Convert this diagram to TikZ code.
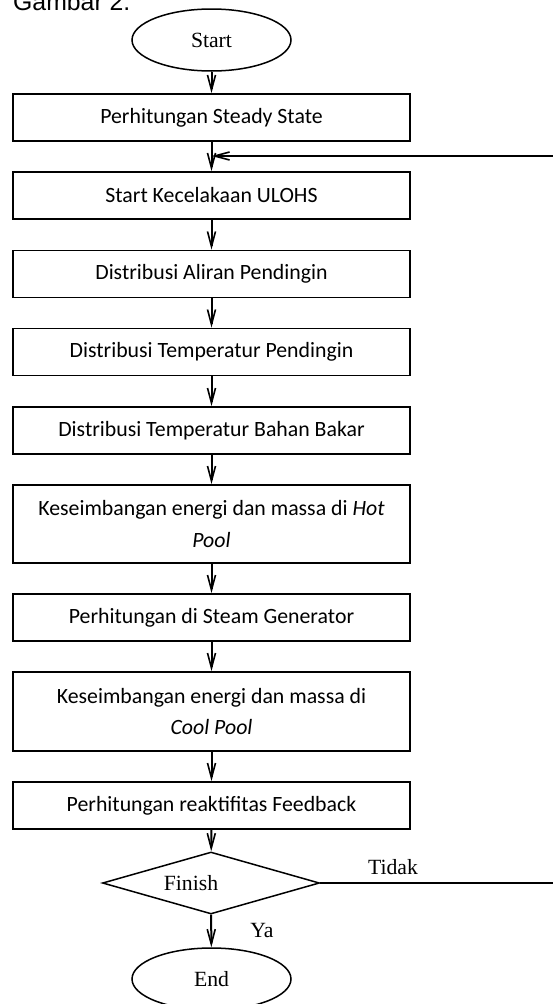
\documentclass[tikz,border=0pt]{standalone}
\usepackage{fontspec}
\setmainfont{Liberation Serif}
\newfontfamily\calfont{Carlito}
\newfontfamily\arialfont{Liberation Sans}
\usetikzlibrary{arrows.meta,shapes.geometric}
\begin{document}
\begin{tikzpicture}[x=1pt,y=-1pt,
  stepbox/.style={draw,line width=1.8pt,minimum width=397pt,inner sep=0pt,align=center,
    font=\calfont\fontsize{21.8}{31.5}\selectfont},
  onebox/.style={stepbox,minimum height=47pt},
  twobox/.style={stepbox,minimum height=79pt},
  term/.style={draw,ellipse,line width=1.5pt,minimum width=159pt,minimum height=62pt,inner sep=0pt,
    font=\fontsize{21.7}{24}\selectfont},
  lbl/.style={font=\fontsize{21.7}{24}\selectfont,inner sep=0pt},
  conn/.style={line width=2pt,-{Straight Barb[length=15pt,width=8pt,line width=1.6pt]}}]
\useasboundingbox (0,0) rectangle (553,1004);
\node[anchor=base west,inner sep=0pt,font=\arialfont\fontsize{24.8}{28}\selectfont] (cap) at (13,10) {Gambar 2.};
\node[term] (start) at (211.5,40) {Start};
\node[onebox] (b1) at (211.5,117.5) {Perhitungan Steady State};
\node[onebox] (b2) at (211.5,195.5) {Start Kecelakaan ULOHS};
\node[onebox] (b3) at (211.5,274) {Distribusi Aliran Pendingin};
\node[onebox] (b4) at (211.5,352) {Distribusi Temperatur Pendingin};
\node[onebox] (b5) at (211.5,430.5) {Distribusi Temperatur Bahan Bakar};
\node[twobox,minimum height=78pt] (b6) at (211.5,524) {Keseimbangan energi dan massa di \textit{Hot}\\\textit{Pool}};
\node[onebox] (b7) at (211.5,617.5) {Perhitungan di Steam Generator};
\node[twobox] (b8) at (211.5,711.5) {Keseimbangan energi dan massa di\\\textit{Cool Pool}};
\node[onebox] (b9) at (211.5,805.5) {Perhitungan reaktifitas Feedback};
\node[draw,diamond,line width=1.5pt,minimum width=217pt,minimum height=62pt,inner sep=0pt] (dec) at (211,883) {};
\node[lbl] (fin) at (191,883) {Finish};
\node[term] (end) at (211.5,979) {End};
\node[lbl] (tidak) at (393,867) {Tidak};
\node[lbl] (ya) at (262,930) {Ya};
\coordinate (j) at (211.5,156);
\coordinate (r1) at (557,883);
\coordinate (r2) at (557,156);
\draw[conn] (start) -- (b1);
\draw[conn] (b1) -- (b2);
\draw[conn] (b2) -- (b3);
\draw[conn] (b3) -- (b4);
\draw[conn] (b4) -- (b5);
\draw[conn] (b5) -- (b6);
\draw[conn] (b6) -- (b7);
\draw[conn] (b7) -- (b8);
\draw[conn] (b8) -- (b9);
\draw[conn] (b9) -- (dec);
\draw[conn] (dec) -- (end);
\draw[conn] (dec.east) -- (r1) -- (r2) -- (j);
\end{tikzpicture}
\end{document}
